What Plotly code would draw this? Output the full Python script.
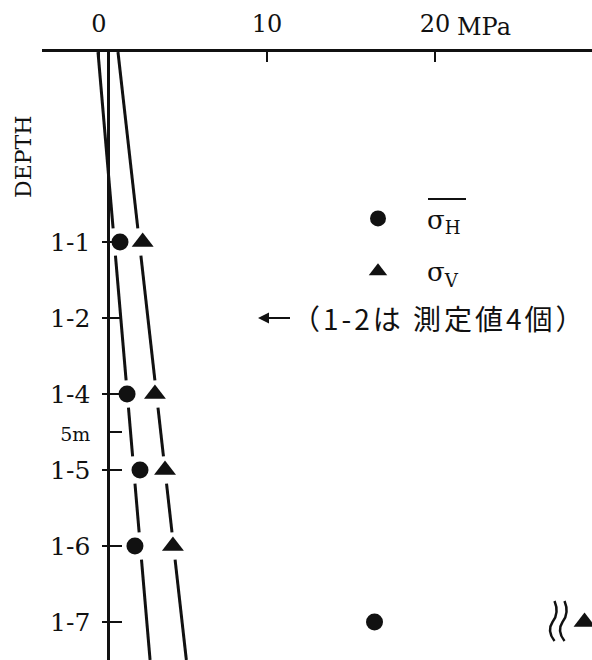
import plotly.graph_objects as go

# ---------------- data ----------------
DEPTH_TICK_LABELS = ["1-1", "1-2", "1-4", "5m", "1-5", "1-6", "1-7"]
DEPTH_TICK_VALUES = [2.5, 3.5, 4.5, 5.0, 5.5, 6.5, 7.5]      # m
POINT_DEPTHS = [2.5, 4.5, 5.5, 6.5, 7.5]                     # m
SIGMA_H = [1.25, 1.67, 2.44, 2.14, 16.4]                     # MPa (mean horizontal)
SIGMA_V = [2.6, 3.33, 3.93, 4.4, 28.9]                       # MPa (vertical, last off scale)
TREND_DEPTHS = [0.0, 8.0]
TREND_H = [-0.06, 3.04]
TREND_V = [1.13, 5.2]
X_TICKS = [0, 10, 20]
DEPTH_AXIS_STRESS = 0.54
NOTE_TEXT = "（1-2は 測定値4個）"

# ---------------- geometry ----------------
W, H = 592, 660
PX_PER_MPA = 16.8
PX_PER_M = 76.0
X0_PX = 99          # pixel of 0 MPa
LEFT_PX = 42        # start of top axis line
TOP_PX = 52         # pixel of depth 0
Y_MAX = 8.0

x_range = [(LEFT_PX - X0_PX) / PX_PER_MPA, (W - X0_PX) / PX_PER_MPA]
ink = "#111111"
serif = "DejaVu Serif"


def gapped_line(xs, ds, gap_depths, half=0.18):
    (x0, x1), (d0, d1) = xs, ds
    f = lambda d: x0 + (x1 - x0) * (d - d0) / (d1 - d0)
    ox, oy = [], []
    start = d0
    for g in sorted(gap_depths):
        ox += [f(start), f(g - half), None]
        oy += [start, g - half, None]
        start = g + half
    ox += [f(start), f(d1)]
    oy += [start, d1]
    return ox, oy


def near_gaps(xs, ds, values):
    (x0, x1), (d0, d1) = xs, ds
    f = lambda d: x0 + (x1 - x0) * (d - d0) / (d1 - d0)
    return [d for d, v in zip(POINT_DEPTHS, values) if abs(v - f(d)) < 2.0]


fig = go.Figure()

hx, hy = gapped_line(TREND_H, TREND_DEPTHS, near_gaps(TREND_H, TREND_DEPTHS, SIGMA_H))
vx, vy = gapped_line(TREND_V, TREND_DEPTHS, near_gaps(TREND_V, TREND_DEPTHS, SIGMA_V))
fig.add_trace(go.Scatter(x=hx, y=hy, mode="lines", line=dict(color=ink, width=3),
                         showlegend=False, hoverinfo="skip", yaxis="y2"))
fig.add_trace(go.Scatter(x=vx, y=vy, mode="lines", line=dict(color=ink, width=3),
                         showlegend=False, hoverinfo="skip"))

fig.add_trace(go.Scatter(
    x=SIGMA_H, y=POINT_DEPTHS, mode="markers", legendgroup="h",
    name="σ<sub>H</sub>",
    marker=dict(symbol="circle", size=17, color=ink)))
fig.add_trace(go.Scatter(
    x=SIGMA_V, y=POINT_DEPTHS, mode="markers", legendgroup="v",
    name="σ<sub>V</sub>",
    marker=dict(symbol="triangle-up", size=19, color=ink)))

LEG_ITEMW = 88
LEG_X_PX = 329
LEG_TOP_PX = 195

fig.update_layout(
    width=W, height=H,
    margin=dict(l=0, r=0, t=0, b=0),
    paper_bgcolor="white", plot_bgcolor="white",
    font=dict(family=serif, color=ink, size=22),
    xaxis=dict(
        domain=[LEFT_PX / W, 1], range=x_range, side="top", anchor="y",
        tickmode="array", tickvals=X_TICKS, ticktext=[str(t) for t in X_TICKS],
        ticks="inside", ticklen=10, tickwidth=2, tickcolor=ink,
        showline=True, linewidth=2.5, linecolor=ink,
        showgrid=False, zeroline=False, ticklabelstandoff=8,
        tickfont=dict(family=serif, size=24, color=ink),
    ),
    yaxis=dict(
        domain=[0, 1 - TOP_PX / H], range=[Y_MAX, 0], anchor="free",
        position=(X0_PX + DEPTH_AXIS_STRESS * PX_PER_MPA) / W,
        tickmode="array", tickvals=DEPTH_TICK_VALUES,
        ticktext=[("<span style='font-size:19px'>%s</span>" % t) if t.endswith("m") else t
                  for t in DEPTH_TICK_LABELS],
        ticks="inside", ticklen=12, tickwidth=2, tickcolor=ink,
        showline=True, linewidth=2.5, linecolor=ink,
        showgrid=False, zeroline=False, ticklabelstandoff=12,
        tickfont=dict(family=serif, size=25, color=ink),
    ),
    yaxis2=dict(
        overlaying="y", matches="y", anchor="free",
        position=(X0_PX + DEPTH_AXIS_STRESS * PX_PER_MPA) / W, side="left",
        tickmode="array",
        tickvals=[v for v, t in zip(DEPTH_TICK_VALUES, DEPTH_TICK_LABELS) if not t.endswith("m")],
        ticks="outside", ticklen=6, tickwidth=2, tickcolor=ink,
        showticklabels=False, showline=False, showgrid=False, zeroline=False,
    ),
    legend=dict(
        x=LEG_X_PX / W, y=1 - LEG_TOP_PX / H, xanchor="left", yanchor="top",
        font=dict(family=serif, size=26, color=ink), itemwidth=LEG_ITEMW,
        tracegroupgap=16, traceorder="grouped", bgcolor="rgba(0,0,0,0)",
    ),
    showlegend=True,
)

# overbar of the mean horizontal stress symbol in the legend
fig.add_shape(type="line", xref="paper", yref="paper",
              x0=428 / W, x1=466 / W, y0=1 - 199 / H, y1=1 - 199 / H,
              line=dict(color=ink, width=2))

# axis title and units
fig.add_annotation(text="DEPTH", xref="paper", yref="paper", x=23 / W, y=1 - 157 / H,
                   xanchor="center", yanchor="middle",
                   textangle=-90, showarrow=False, font=dict(family=serif, size=22, color=ink))
fig.add_annotation(text="MPa", xref="x", yref="paper", x=X_TICKS[-1], y=1 - 27 / H,
                   xanchor="left", yanchor="middle", xshift=20, showarrow=False,
                   font=dict(family=serif, size=24, color=ink))

# note for 1-2 : arrow + text
NOTE_ARROW_X = (258 - X0_PX) / PX_PER_MPA
NOTE_TEXT_X = (290 - X0_PX) / PX_PER_MPA
fig.add_annotation(text=" ", xref="x", yref="y", x=NOTE_ARROW_X, y=DEPTH_TICK_VALUES[1],
                   showarrow=True, ax=34, ay=0, arrowhead=2, arrowsize=1.1,
                   arrowwidth=2, arrowcolor=ink, standoff=0,
                   font=dict(family=serif, size=4, color=ink))
fig.add_annotation(text="<span style='letter-spacing:3px'>%s</span>" % NOTE_TEXT,
                   xref="x", yref="y", x=NOTE_TEXT_X, y=DEPTH_TICK_VALUES[1],
                   xanchor="left", yanchor="middle", showarrow=False,
                   font=dict(family="Noto Sans CJK JP", size=28, color=ink))

# axis-break mark (two wavy strokes) just before the off-scale value
bx = SIGMA_V[-1]
by = POINT_DEPTHS[-1]
mx = lambda p: p / PX_PER_MPA
my = lambda p: p / PX_PER_M
for off in (-32, -22):
    c = bx + mx(off)
    path = ("M %f,%f Q %f,%f %f,%f Q %f,%f %f,%f" % (
        c + mx(2), by - my(21),
        c + mx(7), by - my(9), c, by,
        c - mx(6), by + my(9), c + mx(2), by + my(19)))
    fig.add_shape(type="path", xref="x", yref="y", path=path,
                  line=dict(color=ink, width=2.5))

fig.write_html("out.html", post_script="document.body.style.margin='0';",
               config={"displayModeBar": False})
